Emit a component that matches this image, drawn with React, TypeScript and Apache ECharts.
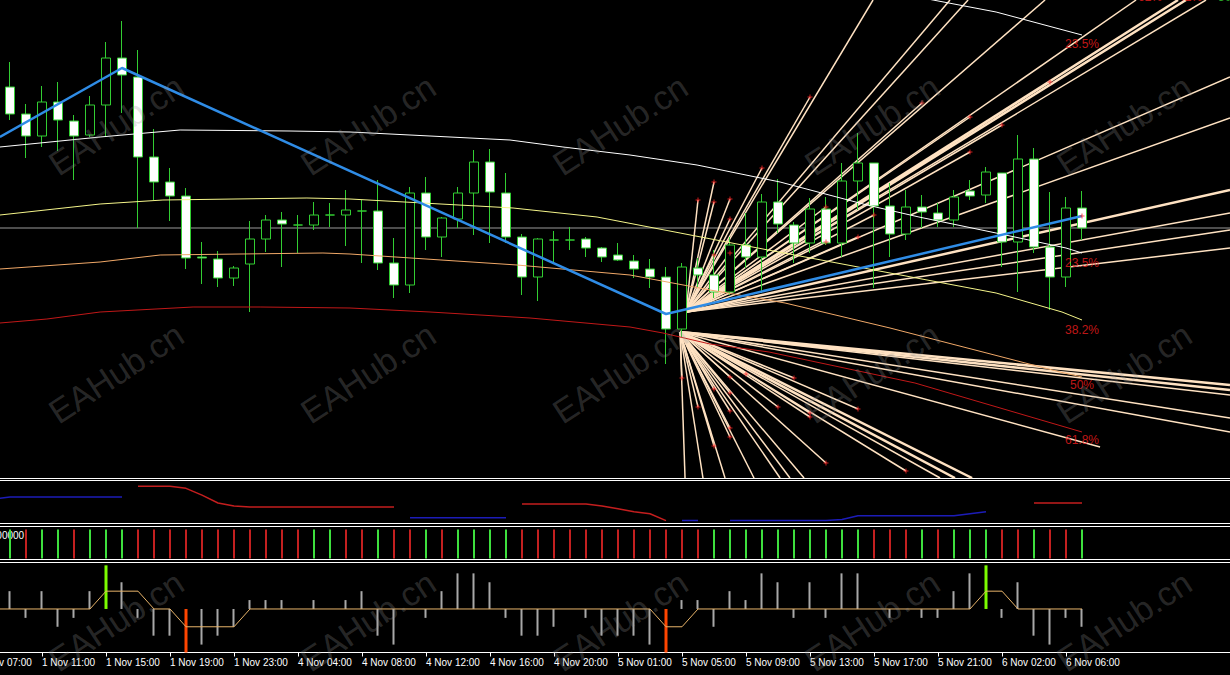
import React, { useEffect, useRef } from 'react';
import * as echarts from 'echarts';

// ---------------- Time axis (H1 bars). Bar 0 = 1 Nov 09:00; a label every 4 bars from bar -2 ----------------
const TICK_LABELS = [
  '1 Nov 07:00', '1 Nov 11:00', '1 Nov 15:00', '1 Nov 19:00', '1 Nov 23:00', '4 Nov 04:00',
  '4 Nov 08:00', '4 Nov 12:00', '4 Nov 16:00', '4 Nov 20:00', '5 Nov 01:00', '5 Nov 05:00',
  '5 Nov 09:00', '5 Nov 13:00', '5 Nov 17:00', '5 Nov 21:00', '6 Nov 02:00', '6 Nov 06:00',
];

// ---------------- Main window: candles (bars 0..67) ----------------
const CANDLE_OPEN = [
  1.29913, 1.29886, 1.29864, 1.29898, 1.29879, 1.29865, 1.29895, 1.29942, 1.29923, 1.29843,
  1.29818, 1.29804, 1.29743, 1.29741, 1.29722, 1.29736, 1.29761, 1.2978, 1.29775, 1.29775,
  1.29785, 1.29785, 1.29789, 1.29789, 1.29737, 1.29715, 1.29807, 1.29763, 1.29781, 1.29807,
  1.29838, 1.29807, 1.29763, 1.29723, 1.2976, 1.2976, 1.29761, 1.29752, 1.29745, 1.29739,
  1.29731, 1.29723, 1.29671, 1.29732, 1.29725, 1.29708, 1.29755, 1.29743, 1.29798, 1.29775,
  1.29757, 1.29791, 1.29757, 1.29819, 1.29837, 1.29794, 1.29766, 1.29793, 1.29787, 1.2978,
  1.29809, 1.29805, 1.29827, 1.29758, 1.29841, 1.29753, 1.29723, 1.29792,
];
const CANDLE_CLOSE = [
  1.29886, 1.29864, 1.29898, 1.2988, 1.29864, 1.29895, 1.29942, 1.29925, 1.29843, 1.29818,
  1.29804, 1.29742, 1.29742, 1.29722, 1.29732, 1.29761, 1.2978, 1.29776, 1.29775, 1.29785,
  1.29785, 1.2979, 1.29789, 1.29737, 1.29715, 1.29807, 1.29763, 1.29782, 1.29807, 1.29838,
  1.29808, 1.29763, 1.29723, 1.29761, 1.2976, 1.2976, 1.29752, 1.29743, 1.2974, 1.29731,
  1.29723, 1.29671, 1.29733, 1.29725, 1.29708, 1.29755, 1.29743, 1.29798, 1.29776, 1.29757,
  1.29791, 1.29757, 1.29819, 1.29837, 1.29794, 1.29766, 1.29793, 1.29788, 1.2978, 1.29803,
  1.29804, 1.29828, 1.29758, 1.29841, 1.29753, 1.29723, 1.29792, 1.29772,
];
const CANDLE_LOW = [
  1.2988, 1.29842, 1.29853, 1.29849, 1.2982, 1.29863, 1.29863, 1.29887, 1.29772, 1.298,
  1.29779, 1.29731, 1.29716, 1.29713, 1.29714, 1.29688, 1.29748, 1.29733, 1.29747, 1.2977,
  1.29773, 1.29754, 1.29737, 1.2973, 1.29702, 1.29707, 1.2975, 1.29743, 1.29772, 1.29765,
  1.29757, 1.29757, 1.29705, 1.29699, 1.29737, 1.2975, 1.29743, 1.29738, 1.29739, 1.29722,
  1.29712, 1.29636, 1.29663, 1.29713, 1.29702, 1.29705, 1.29732, 1.29707, 1.29767, 1.29737,
  1.29747, 1.29755, 1.29743, 1.2979, 1.29712, 1.29743, 1.2976, 1.29772, 1.29773, 1.29773,
  1.298, 1.29797, 1.29733, 1.29708, 1.29747, 1.2969, 1.29713, 1.2976,
];
const CANDLE_HIGH = [
  1.29938, 1.29896, 1.29914, 1.29918, 1.29885, 1.29904, 1.29958, 1.29979, 1.2995, 1.29871,
  1.29832, 1.29812, 1.29758, 1.29749, 1.29734, 1.29779, 1.29785, 1.29788, 1.29785, 1.29798,
  1.29797, 1.2981, 1.298, 1.2982, 1.29762, 1.29813, 1.29823, 1.29783, 1.29813, 1.2985,
  1.29851, 1.29827, 1.29766, 1.29762, 1.29769, 1.29773, 1.29763, 1.29753, 1.29757, 1.29745,
  1.29741, 1.29733, 1.29737, 1.29742, 1.2975, 1.29763, 1.29787, 1.29806, 1.29821, 1.29778,
  1.29802, 1.29803, 1.29837, 1.29867, 1.29837, 1.29817, 1.2981, 1.29805, 1.29797, 1.2981,
  1.2982, 1.29833, 1.29827, 1.29865, 1.29852, 1.29808, 1.29803, 1.29809,
];
const BID_PRICE = 1.29772;

// curves of the main window: [bar, price]
const MA_WHITE = [[-0.63, 1.29853], [5.63, 1.29863], [10.63, 1.2987], [17.5, 1.29869], [21.25, 1.29868], [31.25, 1.2986], [34.56, 1.29853], [38.75, 1.29845], [42.94, 1.29835], [48.13, 1.29818], [53.56, 1.29795], [56.81, 1.29783], [61.63, 1.29767], [66, 1.29752], [67, 1.29747]];
const MA_WHITE_UPPER = [[54.38, 1.3001], [57.69, 1.3], [61.63, 1.29988], [67, 1.29965]];
const MA_YELLOW = [[-0.63, 1.29785], [5.63, 1.29796], [9.56, 1.298], [18.56, 1.29802], [21.25, 1.29801], [31.44, 1.29792], [36.69, 1.29783], [41.88, 1.29767], [47.38, 1.2975], [55, 1.29727], [61.63, 1.29707], [65.75, 1.29688], [67, 1.2968]];
const MA_ORANGE = [[-0.63, 1.29731], [5.63, 1.29738], [9.38, 1.29745], [19.56, 1.29747], [21.25, 1.29746], [31.69, 1.29735], [38.75, 1.29725], [43.75, 1.2971], [48.44, 1.29697], [55, 1.29672], [65.63, 1.29628], [67, 1.29623]];
const MA_RED = [[-0.63, 1.29677], [2.31, 1.29681], [5.63, 1.29688], [11.44, 1.29693], [15.63, 1.29693], [21.25, 1.29692], [26.25, 1.29688], [32.5, 1.29682], [38.75, 1.29673], [40.81, 1.29667], [43.75, 1.29656], [47.44, 1.29648], [56.56, 1.29617], [67, 1.29568]];
const ZIGZAG = [[-0.63, 1.29863], [7, 1.29932], [41, 1.29686], [67, 1.29784]];

// fan lines: origin + end points [bar, price]
const FAN_UP_ORIGIN = [42.25, 1.29688];
const FAN_UP_EDGE = [[53.94, 1.3], [58.75, 1.3], [59.88, 1.3], [64.69, 1.3], [70.38, 1.3], [73.0, 1.3], [73.5, 1.3], [74.75, 1.3], [76.25, 1.29923], [76.25, 1.29882], [76.25, 1.2981], [76.25, 1.29787], [76.25, 1.2977], [76.25, 1.29752]];
const FAN_UP_TIPS = [[50, 1.29903], [57, 1.29897], [65, 1.29918], [60, 1.29883], [62, 1.29875], [60, 1.29848], [53, 1.29763], [54, 1.29785], [47, 1.29832], [44, 1.29818], [43, 1.298], [44, 1.29798], [45, 1.29801], [45, 1.29781], [44, 1.29745], [45, 1.29747], [51, 1.29793], [51, 1.29758]];
const FAN_DN_ORIGIN = [41.88, 1.29668];
const FAN_DN_EDGE = [[42.19, 1.29522], [43.31, 1.29522], [44.69, 1.29522], [46.5, 1.29522], [48.13, 1.29522], [48.75, 1.29522], [49.63, 1.29522], [58.13, 1.29522], [59.06, 1.29522], [60.13, 1.29522], [76.25, 1.29615], [76.25, 1.2961], [76.25, 1.29605], [76.25, 1.29582], [76.25, 1.29568], [68.13, 1.29553]];
const FAN_DN_TIPS = [[42, 1.29622], [43, 1.29593], [44, 1.29554], [44, 1.29611], [45, 1.29623], [45, 1.29607], [45, 1.29589], [45, 1.29572], [45, 1.29563], [46, 1.29626], [48, 1.29593], [49, 1.29622], [50, 1.29587], [50, 1.29583], [51, 1.29537], [53, 1.29591], [56, 1.29529]];

const LEVEL_TEXT = ['23.5%', '23.5%', '38.2%', '50%', '61.8%'];
const LEVEL_POS = [[67, 1.29956], [67, 1.29737], [67, 1.2967], [67, 1.29615], [67, 1.2956]];
const TOP_TEXT = ['62%', '41%', '50%'];
const TOP_POS = [[71.25, 1.3], [73.75, 1.3], [76.25, 1.3]];

// ---------------- Sub window 1 (bars -1..67) ----------------
const SUB1_BLUE = [25, 27, 27, 27, 27, 27, 27, 27, 27, null, null, null, null, null, null, null, null, null, null, null, null, null, null, null, null, null, 6, 6, 6, 6, 6, 6, 6, null, null, null, null, null, null, null, null, null, null, 3, 3, null, 3, 3, 3, 3, 3, 3, 3, 4, 8, 8, 8, 8, 8, 8, 8, 10, 12, null, null, null, null, null, null];
const SUB1_RED = [null, null, null, null, null, null, null, null, null, 38, 38, 38, 36, 29, 21, 18, 17, 17, 17, 17, 17, 17, 17, 17, 17, 17, null, null, null, null, null, null, null, 20, 20, 20, 20, 20, 18, 15, 12, 10, 3, null, null, null, null, null, null, null, null, null, null, null, null, null, null, null, null, null, null, null, null, null, null, 21, 21, 21, 21];

// ---------------- Sub window 2: signal per bar (bars 0..67) ----------------
const SUB2_SIGNAL = [1, -1, 1, 1, -1, 1, 1, 1, -1, -1, -1, -1, -1, -1, -1, -1, -1, -1, -1, 1, 1, -1, -1, 1, -1, -1, 1, -1, 1, 1, 1, 1, -1, -1, -1, -1, -1, -1, -1, -1, -1, -1, -1, -1, 1, 1, 1, 1, 1, 1, 1, 1, 1, 1, -1, -1, -1, 1, -1, 1, 1, 1, -1, -1, 1, -1, -1, 1];

// ---------------- Sub window 3 (bars 0..67; line from bar -1) ----------------
const SUB3_HIST = [2, -1, 2, -2, -1, 2, null, 3, -1, -3, -3, null, -4, -3, -2, 1, 1, 1, 0, 1, 0, 1, 2, -3, -4, 0, -1, 2, 4, 4, 3, -1, -3, -3, -2, 0, -1, -3, -3, -3, -4, null, 1, 1, -2, 2, 1, 4, 3, -1, 3, -1, 4, 4, 0, -1, 0, -1, -1, 2, 4, null, -1, 3, -3, -4, -1, -2];
const SUB3_SPIKE_BARS = [6, 11, 41, 61];
const SUB3_SPIKE_VALUES = [4.9, -4.9, -4.9, 4.9];
const SUB3_LINE = [0, 0, 0, 0, 0, 0, 0, 2, 2, 2, 0, 0, -2, -2, -2, -2, 0, 0, 0, 0, 0, 0, 0, 0, 0, 0, 0, 0, 0, 0, 0, 0, 0, 0, 0, 0, 0, 0, 0, 0, 0, 0, -2, -2, 0, 0, 0, 0, 0, 0, 0, 0, 0, 0, 0, 0, 0, 0, 0, 0, 0, 0, 2, 2, 0, 0, 0, 0, 0];

// ---------------- layout / style ----------------
const GRID_LEFT = -30;
const GRID_WIDTH = 1264;
const N_CAT = 79; // bars -2..76
const X_MIN = -2.5;
const X_MAX = 76.5;
const GREEN = '#32CD32';
const FAN_COLOR = '#FFE2C2';
const LABEL_RED = '#F01E1E';
const THICK_UP = [5, 6, 10];
const THICK_DN = [8, 9, 10, 11];

function buildOption() {
  const categories: string[] = [];
  for (let k = 0; k < N_CAT; k++) {
    categories.push(k % 4 === 0 && k / 4 < TICK_LABELS.length ? TICK_LABELS[k / 4] : 'b' + k);
  }
  const isTick = (_i: number, v: string) => !String(v).startsWith('b');
  const toCat = (arr: (number | null)[], firstBar: number) => {
    const out: (number | null)[] = new Array(N_CAT).fill(null);
    arr.forEach((v, i) => { out[i + firstBar + 2] = v; });
    return out;
  };
  const spikeCat: any[] = new Array(N_CAT).fill(null);
  SUB3_SPIKE_BARS.forEach((b, i) => {
    const v = SUB3_SPIKE_VALUES[i];
    spikeCat[b + 2] = { value: v, itemStyle: { color: v > 0 ? '#7CFC00' : '#FF4500' } };
  });

  const candles = CANDLE_OPEN.map((o, i) => [i, o, CANDLE_CLOSE[i], CANDLE_LOW[i], CANDLE_HIGH[i]]);
  const fan: any[] = [];
  FAN_UP_EDGE.forEach((e, i) => fan.push({ coords: [[...FAN_UP_ORIGIN], [...e]], lineStyle: { width: THICK_UP.includes(i) ? 2.5 : 1.5 } }));
  FAN_UP_TIPS.forEach((e) => fan.push({ coords: [[...FAN_UP_ORIGIN], [...e]] }));
  FAN_DN_EDGE.forEach((e, i) => fan.push({ coords: [[...FAN_DN_ORIGIN], [...e]], lineStyle: { width: THICK_DN.includes(i) ? 2.5 : 1.5 } }));
  FAN_DN_TIPS.forEach((e) => fan.push({ coords: [[...FAN_DN_ORIGIN], [...e]] }));

  const pair = (arr: (number | null)[], firstBar: number) => arr.map((v, i) => [i + firstBar, v == null ? '-' : v]);

  const gridBase = { left: GRID_LEFT, width: GRID_WIDTH, containLabel: false, outerBoundsMode: 'none' };
  const subGrid = { ...gridBase, show: true, borderColor: '#ffffff', borderWidth: 1, backgroundColor: 'transparent' };
  const valX = (gridIndex: number, line: boolean) => ({
    type: 'value', gridIndex, min: X_MIN, max: X_MAX,
    axisLine: { show: line, onZero: false, lineStyle: { color: '#ffffff', width: 1 } },
    axisTick: { show: false }, axisLabel: { show: false }, splitLine: { show: false },
  });
  const valY = (gridIndex: number, min: number, max: number) => ({ type: 'value', gridIndex, min, max, show: false, splitLine: { show: false } });

  const watermarks: any[] = [];
  for (let i = 0; i < 5; i++) {
    for (let j = 0; j < 3; j++) {
      watermarks.push({
        type: 'text', x: 116 + 252 * i, y: 125 + 248 * j, rotation: 0.58, z: 100, silent: true,
        style: { text: 'EAHub.cn', fill: 'rgba(150,150,150,0.27)', font: '34px "Liberation Sans", Arial, sans-serif', align: 'center', verticalAlign: 'middle' },
      });
    }
  }

  return {
    animation: false,
    backgroundColor: '#000000',
    grid: [
      { ...gridBase, top: 0, height: 478, show: false },
      { ...subGrid, top: 480.5, height: 43 },
      { ...subGrid, top: 526.5, height: 33 },
      { ...subGrid, top: 562.5, height: 90 },
    ],
    xAxis: [
      valX(0, true),
      valX(1, false),
      valX(2, false),
      {
        type: 'category', gridIndex: 3, data: categories, boundaryGap: true,
        axisLine: { show: true, onZero: false, lineStyle: { color: '#ffffff', width: 1 } },
        axisTick: { show: true, interval: isTick, alignWithLabel: true, length: 4, lineStyle: { color: '#ffffff' } },
        axisLabel: {
          show: true, interval: isTick, color: '#ffffff', fontSize: 10, fontFamily: '"Liberation Sans", Arial, sans-serif',
          align: 'left', margin: 5, hideOverlap: false,
        },
        splitLine: { show: false },
      },
    ],
    yAxis: [
      valY(0, 1.29522, 1.3),
      valY(1, 0, 44),
      valY(2, -0.033, 1.1),
      valY(3, -4.89, 5.22),
    ],
    graphic: {
      elements: [
        ...watermarks,
        {
          type: 'text', left: -12, top: 530, silent: true,
          style: { text: '0.00000', fill: '#ffffff', font: '10px "Liberation Sans", Arial, sans-serif' },
        },
      ],
    },
    series: [
      {
        type: 'line', xAxisIndex: 0, yAxisIndex: 0, data: [[X_MIN, BID_PRICE], [X_MAX, BID_PRICE]],
        showSymbol: false, silent: true, z: 1, lineStyle: { color: '#9a9a9a', width: 1 },
      },
      {
        type: 'lines', coordinateSystem: 'cartesian2d', xAxisIndex: 0, yAxisIndex: 0, data: fan,
        lineStyle: { color: FAN_COLOR, width: 1.5, opacity: 1, curveness: 0 }, silent: true, z: 2, clip: true,
      },
      {
        type: 'candlestick', xAxisIndex: 0, yAxisIndex: 0, data: candles, barWidth: 9, z: 3, silent: true,
        itemStyle: {
          color: '#000000', color0: '#ffffff', borderColor: GREEN, borderColor0: GREEN, borderColorDoji: GREEN, borderWidth: 1,
        },
      },
      ...[
        [MA_WHITE, '#ffffff'], [MA_WHITE_UPPER, '#ffffff'], [MA_YELLOW, '#F5F58A'], [MA_ORANGE, '#F0A868'], [MA_RED, '#C01818'],
      ].map(([d, c]) => ({
        type: 'line', xAxisIndex: 0, yAxisIndex: 0, data: d, showSymbol: false, silent: true, z: 4,
        lineStyle: { color: c, width: 1 },
      })),
      {
        type: 'line', xAxisIndex: 0, yAxisIndex: 0, data: ZIGZAG, showSymbol: false, silent: true, z: 5,
        lineStyle: { color: '#2F8CE6', width: 2.5 },
      },
      {
        type: 'scatter', xAxisIndex: 0, yAxisIndex: 0, data: [...FAN_UP_TIPS, ...FAN_DN_TIPS, ZIGZAG[3]],
        symbol: 'path://M2,0H3V2H5V3H3V5H2V3H0V2H2Z', symbolSize: 5, itemStyle: { color: '#FF2424' }, silent: true, z: 6,
      },
      {
        type: 'scatter', xAxisIndex: 0, yAxisIndex: 0, symbolSize: 1, itemStyle: { color: 'transparent' }, silent: true, z: 7,
        data: LEVEL_POS.map((p, i) => ({ value: p, label: { formatter: LEVEL_TEXT[i] } })),
        label: { show: true, position: 'inside', color: LABEL_RED, fontSize: 12, fontFamily: '"Liberation Sans", Arial, sans-serif' },
      },
      {
        type: 'scatter', xAxisIndex: 0, yAxisIndex: 0, symbolSize: 1, itemStyle: { color: 'transparent' }, silent: true, z: 7,
        data: TOP_POS.map((p, i) => ({ value: p, label: { formatter: TOP_TEXT[i], color: i === 2 ? GREEN : LABEL_RED } })),
        label: { show: true, position: 'inside', offset: [0, -3], fontSize: 12, fontFamily: '"Liberation Sans", Arial, sans-serif' },
      },
      // sub window 1
      {
        type: 'line', xAxisIndex: 1, yAxisIndex: 1, data: pair(SUB1_BLUE, -1), showSymbol: false, silent: true,
        connectNulls: false, lineStyle: { color: '#1C1CB8', width: 1.5 },
      },
      {
        type: 'line', xAxisIndex: 1, yAxisIndex: 1, data: pair(SUB1_RED, -1), showSymbol: false, silent: true,
        connectNulls: false, lineStyle: { color: '#C41E1E', width: 1.5 },
      },
      // sub window 2
      {
        type: 'bar', xAxisIndex: 2, yAxisIndex: 2, barWidth: 2, silent: true,
        data: SUB2_SIGNAL.map((s, i) => ({ value: [i, 1], itemStyle: { color: s > 0 ? '#3EE03E' : '#C42020' } })),
      },
      // sub window 3
      {
        type: 'bar', xAxisIndex: 3, yAxisIndex: 3, barWidth: 2, barGap: '-100%', silent: true,
        data: toCat(SUB3_HIST, 0), itemStyle: { color: '#A8A8A8' },
      },
      {
        type: 'bar', xAxisIndex: 3, yAxisIndex: 3, barWidth: 3, barGap: '-100%', silent: true, data: spikeCat,
      },
      {
        type: 'line', xAxisIndex: 3, yAxisIndex: 3, data: toCat(SUB3_LINE, -1), showSymbol: false, silent: true, z: 3,
        lineStyle: { color: '#E8B46A', width: 1 },
      },
    ],
  };
}

export default function App() {
  const ref = useRef<HTMLDivElement>(null);
  useEffect(() => {
    document.body.style.margin = '0';
    document.body.style.background = '#000';
    const chart = echarts.init(ref.current as HTMLDivElement, null, { renderer: 'svg' });
    chart.setOption(buildOption() as any);
    return () => chart.dispose();
  }, []);
  return <div ref={ref} style={{ width: 1230, height: 675, background: '#000', overflow: 'hidden' }} />;
}
